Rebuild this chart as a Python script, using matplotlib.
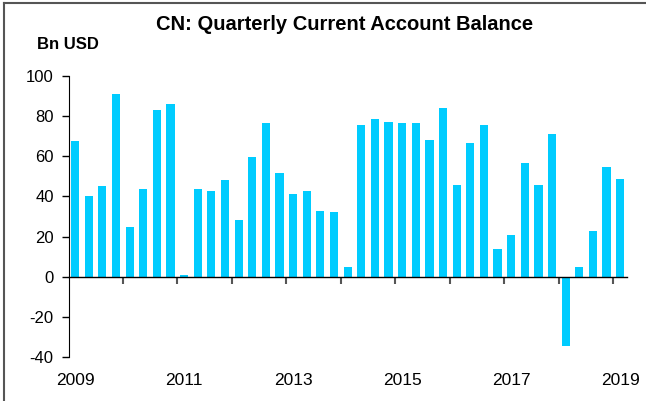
# CN quarterly current account balance, 2009Q1 - 2019Q1, bar chart.

import matplotlib
matplotlib.use("Agg")

import matplotlib.pyplot as plt
from matplotlib.lines import Line2D
from matplotlib.ticker import FixedLocator, NullFormatter

plt.rcParams["font.family"] = ["Liberation Sans", "DejaVu Sans"]
plt.rcParams["axes.unicode_minus"] = False

years = list(range(2009, 2020))
quarters = [f"{y}Q{q}" for y in years for q in range(1, 5)][:41]
balance = [
    67.5, 40, 45, 91, 25, 43.5, 83, 86, 1, 43.5, 42.5, 48,
    28.5, 59.5, 76.5, 51.5, 41, 42.5, 32.5, 32, 5, 75.5, 78.5, 77,
    76.5, 76.5, 68, 84, 45.5, 66.5, 75.5, 14, 21, 56.5, 45.5, 71,
    -34.5, 5, 23, 54.5, 48.5,
]
year_labels = ["2009", "2011", "2013", "2015", "2017", "2019"]

fig = plt.figure(figsize=(6.46, 4.01), dpi=100)
ax = fig.add_axes([0.1068, 0.1097, 0.8638, 0.7008])

x = list(range(len(balance)))
ax.bar(x, balance, width=0.6, color="#00CCFF", zorder=2)

ax.set_xlim(-0.45, 40.5)
ax.set_ylim(-40, 100)
ax.set_yticks(range(-40, 101, 20))
ax.tick_params(axis="y", direction="out", length=5, width=1, pad=6,
               labelsize=12)

# x axis sits on zero; ticks mark year boundaries, labels sit at Q1
ax.spines["bottom"].set_position(("data", 0))
ax.spines["bottom"].set_linewidth(1)
for s in ("top", "right"):
    ax.spines[s].set_visible(False)
bounds = [i + 3.5 for i in range(0, 40, 4)]
ax.xaxis.set_major_locator(FixedLocator(bounds))
ax.xaxis.set_major_formatter(NullFormatter())
ax.tick_params(axis="x", which="major", direction="out", length=5,
               width=1.5, color="#555555")
label_pos = [quarters.index(f"{y}Q1") for y in year_labels]
ax.set_xticks(label_pos, minor=True)
ax.set_xticklabels(year_labels, minor=True)
ax.tick_params(axis="x", which="minor", length=0, pad=69, labelsize=12.5)

fig.text(0.534, 0.94, "CN: Quarterly Current Account Balance",
         ha="center", va="center", fontsize=14.5, fontweight="bold")
fig.text(0.057, 0.888, "Bn USD", ha="left", va="center",
         fontsize=12, fontweight="bold")

# outer frame (top and left edges visible in the crop)
fig.add_artist(Line2D([4 / 646, 1], [1 - 3 / 401] * 2,
                      transform=fig.transFigure, color="#555555", lw=1.5))
fig.add_artist(Line2D([4 / 646] * 2, [0, 1 - 3 / 401],
                      transform=fig.transFigure, color="#555555", lw=1.5))

fig.savefig("out.png", dpi=100)
